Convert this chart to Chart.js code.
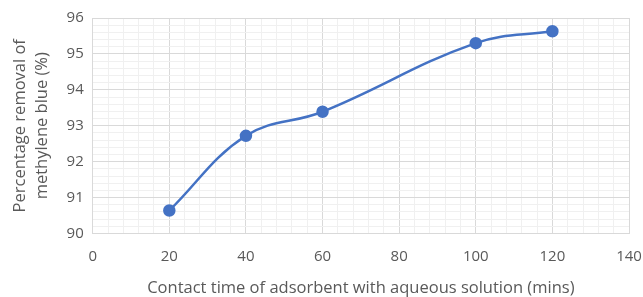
<!DOCTYPE html>
<html>
<head>
<meta charset="utf-8">
<script src="https://cdn.jsdelivr.net/npm/chart.js@4"></script>
<style>
    html, body { margin: 0; padding: 0; background: #fff; }
    #wrap { width: 643px; height: 297px; }
</style>
</head>
<body>
<div id="wrap"><canvas id="removal-chart"></canvas></div>
<script>
// Contact time (mins) and removal (%)
const contactTimes = [20, 40, 60, 100, 120];
const removalPercent = [90.64, 92.72, 93.39, 95.3, 95.63];

const xTitle = 'Contact time of adsorbent with aqueous solution (mins)';
const yTitle = ['Percentage removal of', 'methylene blue (%)'];

const points = contactTimes.map((t, i) => ({ x: t, y: removalPercent[i] }));

// major gridline darker, minor ones light
function isMajor(value, step) {
    const r = value / step;
    return Math.abs(r - Math.round(r)) < 1e-6;
}

const ctx = document.getElementById('removal-chart');
new Chart(ctx, {
    type: 'scatter',
    data: {
        datasets: [{
            data: points,
            showLine: true,
            borderColor: '#4472C4',
            backgroundColor: '#4472C4',
            borderWidth: 2.5,
            pointRadius: 5,
            tension: 0.4
        }]
    },
    options: {
        responsive: true,
        maintainAspectRatio: false,
        animation: false,
        layout: { padding: { top: 7, right: 0, bottom: 0, left: 5 } },
        plugins: { legend: { display: false }, tooltip: { enabled: false } },
        scales: {
            x: {
                min: 0,
                max: 140,
                // keep room for "140" only
                afterFit: scale => { scale.paddingRight = 14; },
                ticks: {
                    stepSize: 4,
                    autoSkip: false,
                    maxRotation: 0,
                    color: '#595959',
                    font: { family: 'Open Sans', size: 15, lineHeight: 1.0 },
                    padding: 16,
                    callback: v => isMajor(v, 20) ? String(Math.round(v)) : ''
                },
                grid: {
                    color: c => isMajor(c.tick.value, 20) ? '#d9d9d9' : '#f0f0f0',
                    lineWidth: 1,
                    drawTicks: false
                },
                border: { display: false },
                title: {
                    display: true,
                    text: xTitle,
                    color: '#595959',
                    font: { family: 'Open Sans', size: 16.5, lineHeight: 1.0 },
                    padding: { top: 0, bottom: 0 }
                }
            },
            y: {
                min: 90,
                max: 96,
                ticks: {
                    stepSize: 0.2,
                    autoSkip: false,
                    color: '#595959',
                    font: { family: 'Open Sans', size: 15 },
                    padding: 9,
                    callback: v => isMajor(v, 1) ? String(Math.round(v)) : ''
                },
                grid: {
                    color: c => isMajor(c.tick.value, 1) ? '#d9d9d9' : '#f0f0f0',
                    lineWidth: 1,
                    drawTicks: false
                },
                border: { display: false },
                title: {
                    display: true,
                    text: yTitle,
                    color: '#595959',
                    font: { family: 'Open Sans', size: 16.5, lineHeight: 1.35 },
                    padding: { bottom: 4 }
                }
            }
        }
    }
});
</script>
</body>
</html>
